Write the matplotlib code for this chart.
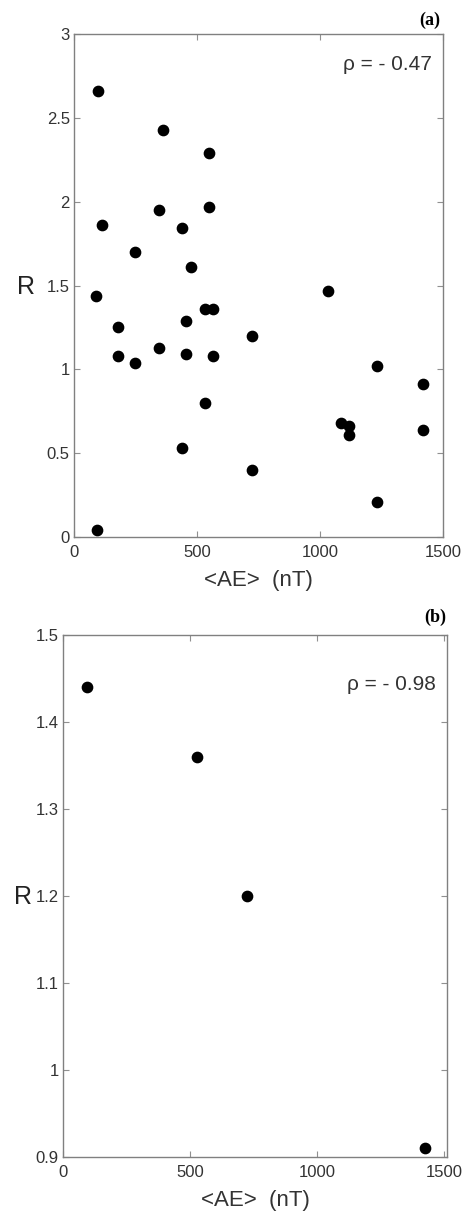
import matplotlib
matplotlib.use("Agg")
import matplotlib.pyplot as plt

# panel (a): all events
ae_a = [96, 363, 550, 345, 550, 115, 438, 248, 474, 90, 1034,
        533, 566, 455, 179, 724, 345, 179, 455, 564, 248, 1230,
        1417, 533, 1084, 1117, 1117, 1417, 438, 724, 1230, 93]
r_a = [2.66, 2.43, 2.29, 1.95, 1.97, 1.86, 1.84, 1.70, 1.61, 1.44, 1.47,
       1.36, 1.36, 1.29, 1.25, 1.20, 1.13, 1.08, 1.09, 1.08, 1.04, 1.02,
       0.91, 0.80, 0.68, 0.66, 0.61, 0.64, 0.53, 0.40, 0.21, 0.04]

# panel (b)
ae_b = [94, 528, 725, 1425]
r_b = [1.44, 1.36, 1.20, 0.91]

plt.rcParams['font.family'] = ['Liberation Sans', 'DejaVu Sans']

W, H = 470, 1213
fig = plt.figure(figsize=(W / 100, H / 100), dpi=100)


def px_axes(x0, y0, x1, y1):
    return fig.add_axes([x0 / W, 1 - y1 / H, (x1 - x0) / W, (y1 - y0) / H])


def style(ax):
    for s in ax.spines.values():
        s.set_color('#808080')
        s.set_linewidth(1.0)
    ax.tick_params(direction='in', top=True, right=True, length=4,
                   color='#909090', labelsize=12, labelcolor='#333333')
    ax.tick_params(axis='x', pad=6)
    ax.tick_params(axis='y', pad=3)


ax1 = px_axes(74, 34, 443, 537)
ax1.scatter(ae_a, r_a, s=55, color='black', zorder=3)
ax1.set_xlim(0, 1500)
ax1.set_ylim(0, 3)
ax1.set_xticks([0, 500, 1000, 1500])
ax1.set_yticks([0, 0.5, 1, 1.5, 2, 2.5, 3])
ax1.set_yticklabels(['0', '0.5', '1', '1.5', '2', '2.5', '3'])
style(ax1)
ax1.text(0.97, 0.94, 'ρ = - 0.47', transform=ax1.transAxes, ha='right',
         va='center', fontsize=15, color='#333333')
ax1.set_xlabel('<AE>  (nT)', fontsize=16, color='#333333', labelpad=7)

ax2 = px_axes(63, 635, 447, 1157)
ax2.scatter(ae_b, r_b, s=55, color='black', zorder=3)
ax2.set_xlim(0, 1510)
ax2.set_ylim(0.9, 1.5)
ax2.set_xticks([0, 500, 1000, 1500])
ax2.set_yticks([0.9, 1.0, 1.1, 1.2, 1.3, 1.4, 1.5])
ax2.set_yticklabels(['0.9', '1', '1.1', '1.2', '1.3', '1.4', '1.5'])
style(ax2)
ax2.text(0.97, 0.905, 'ρ = - 0.98', transform=ax2.transAxes, ha='right',
         va='center', fontsize=15, color='#333333')
ax2.set_xlabel('<AE>  (nT)', fontsize=16, color='#333333', labelpad=7)

# R labels and panel tags
fig.text(26 / W, 1 - 287 / H, 'R', fontsize=18, ha='center', va='center',
         color='#222222')
fig.text(23 / W, 1 - 897 / H, 'R', fontsize=18, ha='center', va='center',
         color='#222222')
fig.text(440 / W, 1 - 20 / H, '(a)', fontsize=13, fontweight='bold',
         family='Liberation Serif', ha='right', va='center')
fig.text(446 / W, 1 - 617 / H, '(b)', fontsize=13, fontweight='bold',
         family='Liberation Serif', ha='right', va='center')

fig.savefig('out.png', dpi=100)
